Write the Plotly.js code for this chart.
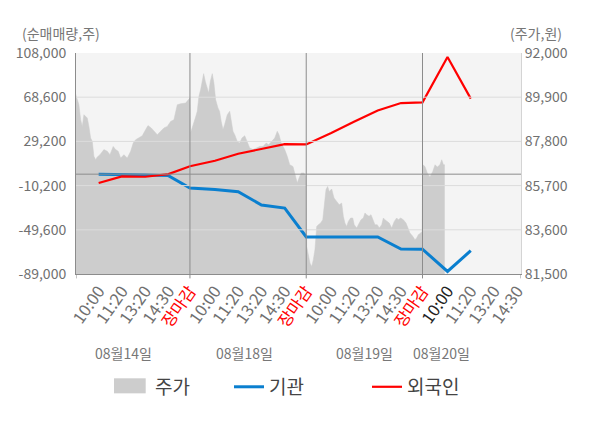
<!DOCTYPE html>
<html>
<head>
<meta charset="utf-8">
<script src="https://cdn.plot.ly/plotly-3.0.1.min.js"></script>
<style>
  html, body { margin: 0; padding: 0; background: #fff; }
  #chart { width: 600px; height: 428px; }
</style>
</head>
<body>
<div id="chart"></div>
<script>
// x is measured in trading days from the 08/14 open; each day has 5 labelled slots
var timeLabels = ['10:00', '11:20', '13:20', '14:30', '장마감'];
var slotPos = [0.215, 0.415, 0.615, 0.815, 1.0];
var dates = ['08월14일', '08월18일', '08월19일', '08월20일'];
var dateLabelX = [0.432, 1.473, 2.505, 3.159];

// cumulative net buying (shares), one value per slot
var instNet = [0, -200, -700, -1300, -12300,
  -13600, -15600, -27500, -30200, -56000,
  -56000, -56000, -56000, -66700, -66900,
  -86700, -68200];
var foreignNet = [-7900, -2000, -2300, 100, 7000,
  12000, 18200, 22500, 26700, 26500,
  36700, 47000, 56800, 63400, 64000,
  104400, 67300];

// intraday share price (won)
var priceT = [0.000, 0.031, 0.045, 0.060, 0.074, 0.088, 0.103, 0.117, 0.131, 0.146,
  0.160, 0.174, 0.189, 0.203, 0.226, 0.246, 0.260, 0.289, 0.312, 0.340,
  0.361, 0.383, 0.404, 0.432, 0.461, 0.490, 0.512, 0.533, 0.561, 0.590,
  0.619, 0.639, 0.667, 0.690, 0.719, 0.748, 0.776, 0.805, 0.834, 0.862,
  0.891, 0.920, 0.963, 0.991, 1.000,
  1.005, 1.025, 1.046, 1.063, 1.077, 1.092, 1.106, 1.118, 1.132, 1.146,
  1.161, 1.175, 1.192, 1.206, 1.221, 1.241, 1.255, 1.269, 1.284, 1.298,
  1.321, 1.342, 1.355, 1.370, 1.385, 1.407, 1.428, 1.447, 1.471, 1.490,
  1.514, 1.542, 1.570, 1.600, 1.628, 1.656, 1.677, 1.699, 1.729, 1.751,
  1.766, 1.785, 1.815, 1.837, 1.858, 1.886, 1.906, 1.923, 1.938, 1.957,
  1.980, 1.998,
  2.004, 2.018, 2.032, 2.047, 2.061, 2.075, 2.090, 2.104, 2.124, 2.142,
  2.155, 2.170, 2.184, 2.198, 2.219, 2.239, 2.262, 2.284, 2.305, 2.319,
  2.333, 2.348, 2.362, 2.382, 2.400, 2.413, 2.434, 2.454, 2.471, 2.491,
  2.505, 2.520, 2.540, 2.557, 2.577, 2.591, 2.611, 2.628, 2.649, 2.663,
  2.677, 2.697, 2.714, 2.735, 2.757, 2.778, 2.792, 2.812, 2.835, 2.858,
  2.878, 2.892, 2.916, 2.935, 2.950, 2.964, 2.985, 2.996,
  3.002, 3.021, 3.041, 3.064, 3.088, 3.108, 3.127, 3.150, 3.165, 3.180, 3.191];
var price = [90340, 89860, 89540, 88830, 88510, 89070, 88990, 88910, 88510, 87960,
  87800, 87090, 86930, 87060, 87170, 87330, 87410, 87330, 87170, 87560,
  87410, 87330, 87010, 87170, 87010, 87330, 87720, 87880, 87960, 88070,
  88360, 88550, 88440, 88280, 88120, 88280, 88440, 88510, 88750, 88830,
  89540, 89590, 89620, 89810, 89860,
  88200, 88510, 88910, 89230, 89940, 90260, 90730, 91020, 90650, 90410,
  90100, 90650, 91020, 90570, 89780, 89390, 89230, 88750, 88360, 88590,
  89070, 89230, 88750, 88280, 88120, 87800, 87720, 87960, 88070, 87800,
  87490, 87410, 87490, 87560, 87560, 87720, 87640, 87800, 87960, 88280,
  88120, 87720, 87410, 87090, 86690, 86610, 86220, 85820, 86060, 86300,
  86300, 86140,
  82810, 82340, 82020, 81860, 82180, 82660, 83760, 83840, 83920, 84080,
  84640, 85510, 85660, 85420, 85540, 85110, 84950, 84790, 84870, 84240,
  83920, 83760, 84000, 84160, 84160, 83840, 83690, 83920, 84080, 84160,
  84400, 84320, 84240, 84320, 84000, 83840, 83840, 83690, 83840, 84160,
  84080, 84000, 83920, 83690, 84000, 84160, 84080, 84160, 84080, 83920,
  83600, 83450, 83290, 83130, 83210, 83370, 83450, 83520,
  86690, 86610, 86300, 86110, 86370, 86690, 86580, 86690, 86930, 86690, 86690];

var leftTicks = [108000, 68600, 29200, -10200, -49600, -89000];
var rightTicks = [92000, 89900, 87800, 85700, 83600, 81500];
var xRange = [0.02, 3.847];

var lineX = [];
var tickVals = [];
var tickText = [];
for (var d = 0; d < 4; d++) {
  for (var k = 0; k < 5; k++) {
    var pos = d + slotPos[k];
    if (lineX.length < instNet.length) lineX.push(pos);
    if (pos > xRange[1]) continue;
    tickVals.push(pos);
    var lab = timeLabels[k];
    if (k == 4) lab = '<span style="color:#ff0000">' + lab + '</span>';
    else if (d == 3 && k == 0) lab = '<span style="color:#222222">' + lab + '</span>';
    tickText.push(lab);
  }
}

var fmt = function (v) { return v.toLocaleString('en-US'); };
var AREA = '#cdcdcd';

var tracePrice = {
  x: priceT, y: price, yaxis: 'y',
  type: 'scatter', mode: 'lines', name: '주가',
  fill: 'tozeroy', fillcolor: AREA,
  line: { color: AREA, width: 0.5 },
  showlegend: false, hoverinfo: 'skip'
};
var traceInst = {
  x: lineX, y: instNet, yaxis: 'y2',
  type: 'scatter', mode: 'lines', name: '기관',
  line: { color: '#0a7fcf', width: 3 },
  legend: 'legend2', showlegend: true
};
var traceForeign = {
  x: lineX, y: foreignNet, yaxis: 'y2',
  type: 'scatter', mode: 'lines', name: '외국인',
  line: { color: '#ff0000', width: 2.2 },
  legend: 'legend3', showlegend: true
};

var shapes = [];
// horizontal gridlines over the price area
leftTicks.slice(1, -1).forEach(function (v) {
  shapes.push({ type: 'line', xref: 'paper', yref: 'y2', x0: 0, x1: 1, y0: v, y1: v,
    line: { color: '#dcdcdc', width: 1 }, layer: 'above' });
});
shapes.push({ type: 'line', xref: 'paper', yref: 'y2', x0: 0, x1: 1, y0: 0, y1: 0,
  line: { color: '#8c8c8c', width: 1 }, layer: 'above' });
// day separators and their tick marks
[1, 2, 3].forEach(function (v) {
  shapes.push({ type: 'line', xref: 'x', yref: 'paper', x0: v, x1: v, y0: 0, y1: 1,
    line: { color: '#8c8c8c', width: 1 }, layer: 'above' });
});
[xRange[0], 1, 2, 3, xRange[1]].forEach(function (v) {
  shapes.push({ type: 'line', xref: 'x', yref: 'paper', x0: v, x1: v, y0: 0, y1: -0.02,
    line: { color: '#8c8c8c', width: 1 } });
});
// legend swatch for the price area (Plotly's fill swatch is only 6px tall)
shapes.push({ type: 'rect', xref: 'paper', yref: 'paper', x0: 0.0854, x1: 0.1566, y0: -0.540, y1: -0.472,
  fillcolor: AREA, line: { width: 0 } });

var annotations = dates.map(function (t, i) {
  return { text: t, x: dateLabelX[i], xref: 'x', y: -0.357, yref: 'paper',
    showarrow: false, xanchor: 'center', yanchor: 'middle',
    font: { size: 14, color: '#777' } };
});
annotations.push({ text: '(순매매량,주)', x: -0.034, xref: 'paper', y: 1.089, yref: 'paper',
  showarrow: false, xanchor: 'center', yanchor: 'middle', font: { size: 14, color: '#777' } });
annotations.push({ text: '(주가,원)', x: 1.034, xref: 'paper', y: 1.089, yref: 'paper',
  showarrow: false, xanchor: 'center', yanchor: 'middle', font: { size: 14, color: '#777' } });

var legFont = { size: 19, color: '#444' };
annotations.push({ text: tracePrice.name, x: 0.1724, xref: 'paper', y: -0.5054, yref: 'paper',
  showarrow: false, xanchor: 'left', yanchor: 'middle', font: legFont });

var legBase = { y: -0.511, xanchor: 'left', yanchor: 'middle', font: legFont, bgcolor: 'rgba(0,0,0,0)' };
var layout = {
  width: 600, height: 428,
  margin: { l: 76, r: 79, t: 53, b: 154 },
  paper_bgcolor: '#ffffff',
  plot_bgcolor: '#f4f4f4',
  showlegend: true,
  font: { family: '"Noto Sans CJK KR", "Noto Sans", sans-serif', color: '#777' },
  xaxis: {
    range: xRange, tickvals: tickVals, ticktext: tickText,
    tickangle: -55, tickfont: { size: 16.5, color: '#707070' },
    showgrid: false, zeroline: false, ticks: '',
    showline: true, linecolor: '#8c8c8c', linewidth: 1
  },
  yaxis: {
    side: 'right', range: [81500, 92000],
    tickvals: rightTicks, ticktext: rightTicks.map(fmt),
    tickfont: { size: 14, color: '#707070' },
    showgrid: false, zeroline: false, ticks: '',
    showline: true, linecolor: '#d4d4d4', linewidth: 1
  },
  yaxis2: {
    overlaying: 'y', side: 'left', range: [-89000, 108000],
    tickvals: leftTicks, ticktext: leftTicks.map(fmt),
    tickfont: { size: 14, color: '#707070' },
    showgrid: false, zeroline: false, ticks: 'outside', ticklen: 6, tickcolor: 'rgba(0,0,0,0)',
    showline: true, linecolor: '#8c8c8c', linewidth: 1
  },
  legend2: Object.assign({ x: (229 - 76) / 445 }, legBase),
  legend3: Object.assign({ x: (367 - 76) / 445 }, legBase),
  shapes: shapes,
  annotations: annotations,
  hovermode: false
};

Plotly.newPlot('chart', [tracePrice, traceInst, traceForeign], layout, { displayModeBar: false, staticPlot: true });
</script>
</body>
</html>
